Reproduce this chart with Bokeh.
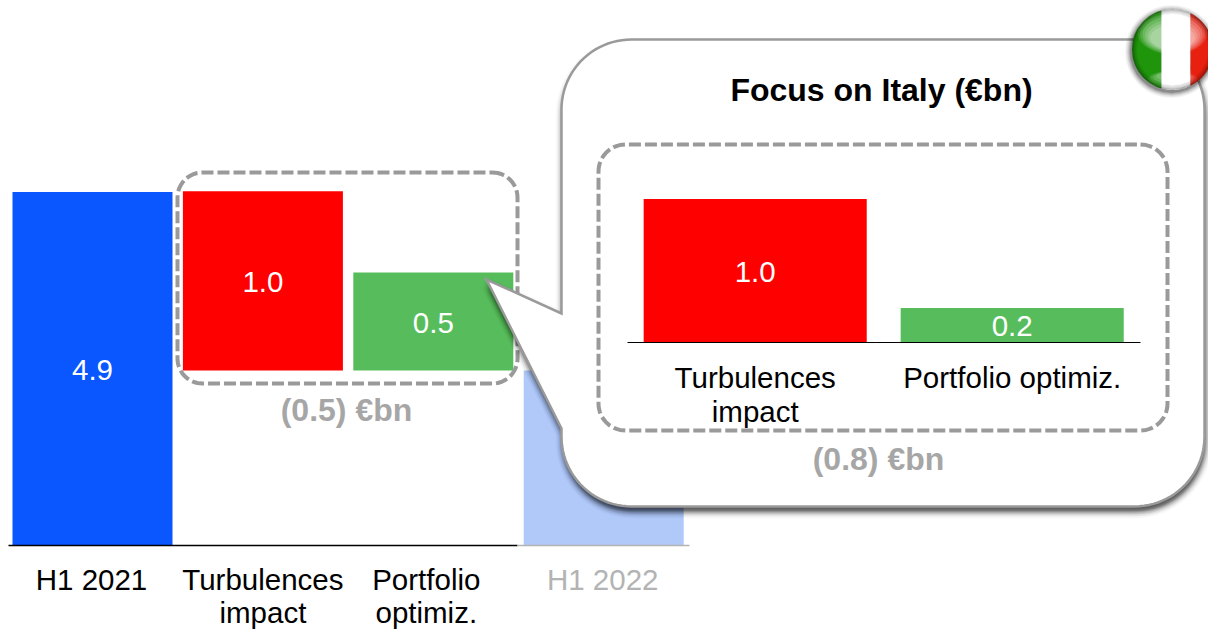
import numpy as np
from bokeh.core.properties import value
from bokeh.embed import file_html
from bokeh.models import Range1d
from bokeh.plotting import figure
from bokeh.resources import INLINE

# ---- data
main_labels = ["4.9", "1.0", "0.5", None]
main_bar_base = [0.0, 2.43, 2.43, 0.0]
main_bar_top = [4.91, 4.92, 3.79, 2.43]
main_colors = ["#0a57ff", "#ff0000", "#57bd5c", "#b0c9f9"]
main_cat_line1 = ["H1 2021", "Turbulences", "Portfolio", "H1 2022"]
main_cat_line2 = ["", "impact", "optimiz.", ""]
main_cat_colors = ["#000000", "#000000", "#000000", "#b3b3b3"]
main_total = "(0.5) €bn"

inset_title = "Focus on Italy (€bn)"
inset_labels = ["1.0", "0.2"]
inset_bar_top = [1.0, 0.24]
inset_colors = ["#ff0000", "#57bd5c"]
inset_cat_line1 = ["Turbulences", "Portfolio optimiz."]
inset_cat_line2 = ["impact", ""]
inset_total = "(0.8) €bn"

FONT = value("Liberation Sans")
GREY = "#9a9a9a"
W, H = 1208, 629

# the default ranges are page pixels, so annotations read straight off the page
p = figure(width=W, height=H, output_backend="svg", toolbar_location=None,
           x_range=Range1d(0, W), y_range=Range1d(H, 0),
           x_axis_type=None, y_axis_type=None, min_border=0,
           outline_line_color=None, background_fill_color="white")
p.grid.visible = False

# value scales for the two bar panels
M0, MU, MX0, MXU = 545, 72.0, 92, 170.4
I0, IU, IX0, IXU = 342, 143.4, 754.7, 257.0
p.extra_y_ranges = {
    "main": Range1d((M0 - H) / MU, M0 / MU),
    "inset": Range1d((I0 - H) / IU, I0 / IU),
}
p.extra_x_ranges = {
    "main": Range1d(-MX0 / MXU, (W - MX0) / MXU),
    "inset": Range1d(-IX0 / IXU, (W - IX0) / IXU),
}


def rrect(x0, y0, x1, y1, r):
    a = np.linspace(0, np.pi / 2, 16)
    xs = np.r_[x1 - r + r * np.sin(a), x1 - r + r * np.cos(a), x0 + r - r * np.sin(a), x0 + r - r * np.cos(a)]
    ys = np.r_[y0 + r - r * np.cos(a), y1 - r + r * np.sin(a), y1 - r + r * np.cos(a), y0 + r - r * np.sin(a)]
    return np.r_[xs, xs[0]], np.r_[ys, ys[0]]


def callout(x0, y0, x1, y1, r, tip, ja, jb):
    a = np.linspace(0, np.pi / 2, 24)
    xs = [x0 + r - r * np.cos(a), x1 - r + r * np.sin(a), x1 - r + r * np.cos(a), x0 + r - r * np.sin(a)]
    ys = [y0 + r - r * np.sin(a), y0 + r - r * np.cos(a), y1 - r + r * np.sin(a), y1 - r + r * np.cos(a)]
    X = np.r_[xs[0], xs[1], xs[2], xs[3], x0, tip[0], x0]
    Y = np.r_[ys[0], ys[1], ys[2], ys[3], jb, tip[1], ja]
    return np.r_[X, X[0]], np.r_[Y, Y[0]]


# ---- main panel
idx = list(range(4))
HW = 80 / MXU
p.quad(left=[i - HW for i in idx], right=[i + HW for i in idx],
       bottom=main_bar_base, top=main_bar_top, fill_color=main_colors, line_color=None,
       x_range_name="main", y_range_name="main")
p.segment([8], [545], [517], [545], line_color="#000000", line_width=1.3)
p.segment([517], [545], [689], [545], line_color="#b3b3b3", line_width=1.3)
for i, t in enumerate(main_labels):
    if t:
        p.text([i], [(main_bar_base[i] + main_bar_top[i]) / 2], text=[t], text_color="white",
               text_font=FONT, text_font_size="29.5px", text_align="center", text_baseline="middle",
               y_offset=1, x_range_name="main", y_range_name="main")
cat_dx = [-1, 0, -7, -1]
p.text(idx, [-34 / MU] * 4, text=main_cat_line1, text_color=main_cat_colors, text_font=FONT,
       text_font_size="29.5px", text_align="center", text_baseline="middle", x_offset=cat_dx,
       x_range_name="main", y_range_name="main")
p.text(idx, [-67 / MU] * 4, text=main_cat_line2, text_color=main_cat_colors, text_font=FONT,
       text_font_size="29.5px", text_align="center", text_baseline="middle", x_offset=cat_dx,
       x_range_name="main", y_range_name="main")
bx, by = rrect(177, 172, 517, 383, 25)
p.line(bx, by, line_color=GREY, line_width=4, line_dash="12 4")
p.text([346], [409.5], text=[main_total], text_color="#a6a6a6", text_font=FONT, text_font_style="bold",
       text_font_size="32px", text_align="center", text_baseline="middle")

# ---- callout with soft shadow
cx, cy = callout(561, 39, 1204, 506, 70, (486, 279), 313, 428)
for rad, n, al in [(7, 16, 0.012), (5, 16, 0.016), (3, 16, 0.02), (1, 8, 0.03)]:
    ang = np.linspace(0, 2 * np.pi, n, endpoint=False)
    p.patches([cx + 1 + rad * np.cos(t) for t in ang], [cy + 5 + rad * np.sin(t) for t in ang],
              fill_color="#000000", fill_alpha=al, line_color=None)
p.patch(cx, cy, fill_color="white", line_color=GREY, line_width=2.5, line_join="miter")

# ---- inset panel
p.text([881], [89], text=[inset_title], text_color="#000000", text_font=FONT, text_font_style="bold",
       text_font_size="32px", text_align="center", text_baseline="middle")
bx, by = rrect(598, 144, 1167, 430, 27)
p.line(bx, by, line_color=GREY, line_width=4, line_dash="12 4")
jdx = [0, 1]
p.quad(left=[i - 0.434 for i in jdx], right=[i + 0.434 for i in jdx], bottom=[0, 0], top=inset_bar_top,
       fill_color=inset_colors, line_color=None, x_range_name="inset", y_range_name="inset")
p.segment([627], [342], [1140], [342], line_color="#000000", line_width=1.2)
for i, t in enumerate(inset_labels):
    p.text([i], [inset_bar_top[i] / 2], text=[t], text_color="white", text_font=FONT,
           text_font_size="29.5px", text_align="center", text_baseline="middle", y_offset=1,
           x_range_name="inset", y_range_name="inset")
p.text(jdx, [-34.5 / IU] * 2, text=inset_cat_line1, text_color="#000000", text_font=FONT,
       text_font_size="29.5px", text_align="center", text_baseline="middle",
       x_range_name="inset", y_range_name="inset")
p.text(jdx, [-68.5 / IU] * 2, text=inset_cat_line2, text_color="#000000", text_font=FONT,
       text_font_size="29.5px", text_align="center", text_baseline="middle",
       x_range_name="inset", y_range_name="inset")
p.text([878], [458.5], text=[inset_total], text_color="#a6a6a6", text_font=FONT, text_font_style="bold",
       text_font_size="32px", text_align="center", text_baseline="middle")

# ---- Italian flag badge
FX, FY, FR = 1172, 49, 40.5


def chord(a, b):
    xs = np.linspace(a, b, 40)
    h = np.sqrt(np.maximum(FR ** 2 - (xs - FX) ** 2, 0))
    return np.r_[xs, xs[::-1]], np.r_[FY - h, (FY + h)[::-1]]


for d, al in [(6, 0.04), (5, 0.05), (4, 0.07), (3, 0.09), (2, 0.12), (1, 0.18)]:
    p.circle([FX - 1], [FY + 2], radius=FR + d, fill_color="#000000", fill_alpha=al, line_color=None)
for (a, b, col) in [(FX - FR, 1161, "#1f950c"), (1161, 1190, "#ffffff"), (1190, FX + FR, "#e8200f")]:
    xs, ys = chord(a, b)
    p.patch(xs, ys, fill_color=col, line_color=None)
for k, al in zip(range(6), [0.12, 0.13, 0.14, 0.15, 0.16, 0.18]):
    p.ellipse([FX], [FY - 17 + k], width=70 - 5 * k, height=44 - 4 * k, fill_color="white", fill_alpha=al,
              line_color=None)
for k, al in zip(range(4), [0.09, 0.11, 0.13, 0.15]):
    p.ellipse([FX], [FY + 30 - k], width=50 - 6 * k, height=18 - 3 * k, fill_color="white", fill_alpha=al,
              line_color=None)
for k, al in zip(range(5), [0.30, 0.22, 0.15, 0.10, 0.05]):
    p.circle([FX], [FY], radius=FR - 0.5 - k * 1.0, fill_color=None, line_color="#000000",
             line_alpha=al, line_width=1.2)

open("out.html", "w").write(file_html(p, INLINE))
